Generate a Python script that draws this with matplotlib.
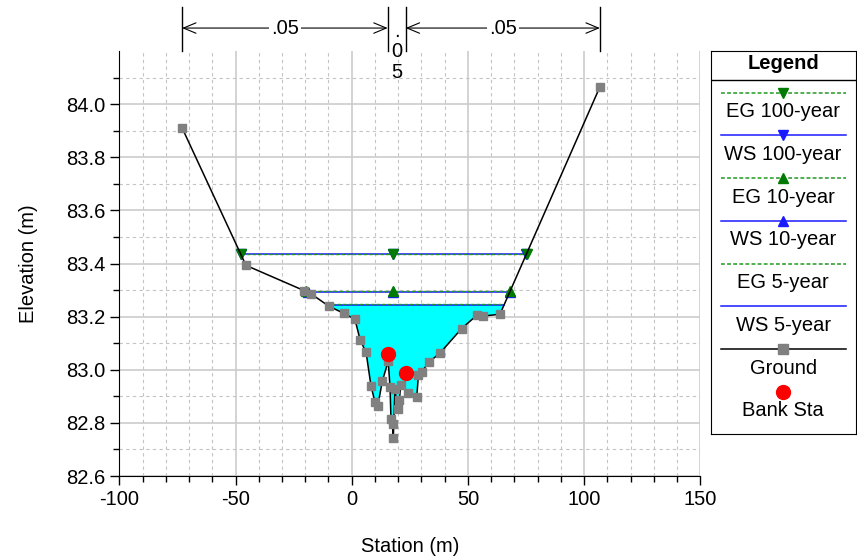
import numpy as np
import matplotlib.pyplot as plt
from matplotlib.ticker import MultipleLocator, FormatStrFormatter

plt.rcParams['font.family'] = ['Liberation Sans', 'DejaVu Sans']
plt.rcParams['axes.unicode_minus'] = False

# ground profile, station (m) / elevation (m)
ground_sta = [-73.0, -45.5, -20.5, -17.5, -9.8, -3.3, 1.4, 3.6, 6.2, 8.3, 10.0,
              11.2, 13.2, 15.7, 16.5, 16.9, 17.6, 17.9, 18.6, 19.8, 20.5, 21.1,
              24.4, 28.0, 28.7, 30.1, 33.3, 38.0, 47.3, 53.8, 56.6, 63.8, 106.8]
ground_elev = [83.911, 83.393, 83.298, 83.286, 83.239, 83.212, 83.190, 83.113,
               83.065, 82.939, 82.879, 82.863, 82.958, 83.032, 82.935, 82.813,
               82.795, 82.742, 82.926, 82.851, 82.885, 82.942, 82.911, 82.898,
               82.979, 82.992, 83.029, 83.063, 83.155, 83.205, 83.202, 83.209,
               84.065]

bank_sta = [15.5, 23.2]
bank_elev = [83.058, 82.986]

profiles = ['100-year', '10-year', '5-year']
ws_elev = [83.434, 83.292, 83.245]
eg_elev = [83.437, 83.295, 83.247]
prof_marker = ['v', '^', None]

# manning's n breaks along the top
n_sta = [-73.0, 15.5, 23.2, 106.8]
n_vals = ['.05', '.05', '.05']

EG_COL = '#1f9a1f'
EG_MK = '#007a00'
WS_COL = '#1a1aff'
FS = 14.5


def crossing(z):
    sta = np.array(ground_sta)
    el = np.array(ground_elev)
    i = int(np.argmax(el < z))
    j = len(el) - 1 - int(np.argmax(el[::-1] < z))
    xl = np.interp(z, [el[i], el[i - 1]], [sta[i], sta[i - 1]])
    xr = np.interp(z, [el[j], el[j + 1]], [sta[j], sta[j + 1]])
    return xl, xr, i, j


fig = plt.figure(figsize=(8.57, 5.57), dpi=100)
ax = fig.add_axes([119.3 / 857, 1 - 476 / 557, (700.3 - 119.3) / 857, (476 - 51) / 557])

# water fill for the lowest profile
xl, xr, i, j = crossing(ws_elev[-1])
poly_x = [xl] + ground_sta[i:j + 1] + [xr]
poly_y = [ws_elev[-1]] + ground_elev[i:j + 1] + [ws_elev[-1]]
ax.fill(poly_x, poly_y, color='#00ffff', lw=0, zorder=1.5)

thalweg = ground_sta[int(np.argmin(ground_elev))]
for ws, eg, mk in zip(ws_elev, eg_elev, prof_marker):
    a, b, _, _ = crossing(ws)
    ax.plot([a, thalweg, b], [ws] * 3, color=WS_COL, lw=1.1, marker=mk, ms=7,
            mfc=WS_COL, mec=WS_COL, zorder=3)
    a, b, _, _ = crossing(eg)
    ax.plot([a, thalweg, b], [eg] * 3, color=EG_COL, lw=1.0, ls=(0, (2.5, 1.5)),
            marker=mk, ms=7, mfc=EG_MK, mec=EG_MK, zorder=3.2)

ax.plot(ground_sta, ground_elev, color='black', lw=1.1, marker='s', ms=6,
        mfc='#808080', mec='#808080', zorder=4)
ax.plot(bank_sta, bank_elev, ls='none', marker='o', ms=10, mfc='red', mec='red', zorder=5)

ax.set_xlim(-100, 150)
ax.set_ylim(82.6, 84.2)
ax.xaxis.set_major_locator(MultipleLocator(50))
ax.xaxis.set_minor_locator(MultipleLocator(10))
ax.set_yticks(np.arange(82.6, 84.01, 0.2))
ax.set_yticks(np.arange(82.7, 84.11, 0.2), minor=True)
ax.yaxis.set_major_formatter(FormatStrFormatter('%.1f'))
ax.set_axisbelow(True)
ax.grid(which='major', color='#cccccc', lw=1.2, ls='-')
ax.grid(which='minor', color='#c4c4c4', lw=0.8, ls=(0, (3, 3)))
ax.tick_params(which='major', length=6.5, width=1, labelsize=FS)
ax.tick_params(which='minor', length=4, width=1)
ax.spines['top'].set_visible(False)
ax.spines['right'].set_visible(False)
ax.set_xlabel('Station (m)', fontsize=FS, labelpad=20)
ax.set_ylabel('Elevation (m)', fontsize=FS, labelpad=20)

# n value dimension lines above the plot
trans = ax.get_xaxis_transform()
yarr = 1.054
for xb in n_sta:
    ax.plot([xb, xb], [1.0, 1.103], transform=trans, color='black', lw=1, clip_on=False)
for k, nv in enumerate(n_vals):
    x0, x1 = n_sta[k], n_sta[k + 1]
    if x1 - x0 > 20:
        ax.annotate('', xy=(x0, yarr), xytext=(x1, yarr), xycoords=trans, textcoords=trans,
                    arrowprops=dict(arrowstyle='<->,head_length=0.6,head_width=0.25',
                                    lw=0.8, shrinkA=0, shrinkB=0, mutation_scale=15))
        ax.text((x0 + x1) / 2, yarr, nv, transform=trans, ha='center', va='center',
                fontsize=FS, bbox=dict(fc='white', ec='none', pad=1.5))
    else:
        ax.text((x0 + x1) / 2, 1.069, '\n'.join(nv), transform=trans, ha='center',
                va='top', fontsize=FS, linespacing=1.12)

# legend box
lax = fig.add_axes([710.7 / 857, 1 - 434 / 557, (855.5 - 710.7) / 857, (434 - 50.7) / 557])
lax.set_xlim(0, 145)
lax.set_ylim(383, 0)
lax.set_xticks([])
lax.set_yticks([])
lax.text(72.5, 13, 'Legend', ha='center', va='center', fontsize=FS, fontweight='bold')
lax.axhline(29.5, color='black', lw=1)

entries = []
for p, mk in zip(profiles, prof_marker):
    entries.append(('EG ' + p, EG_COL, (0, (2.5, 1.5)), mk, EG_MK))
    entries.append(('WS ' + p, WS_COL, '-', mk, WS_COL))
entries.append(('Ground', 'black', '-', 's', '#808080'))
entries.append(('Bank Sta', 'red', 'none', 'o', 'red'))

for k, (lab, col, ls, mk, mc) in enumerate(entries):
    yl = 42 + 42.7 * k
    ms = 10 if mk == 'o' else 7
    lax.plot([10, 72.5, 135], [yl] * 3, color=col, ls=ls, lw=1.1, marker=mk,
             markevery=[1], ms=ms, mfc=mc, mec=mc)
    lax.text(72.5, yl + 19, lab, ha='center', va='center', fontsize=FS)

fig.savefig('out.png', dpi=100)
